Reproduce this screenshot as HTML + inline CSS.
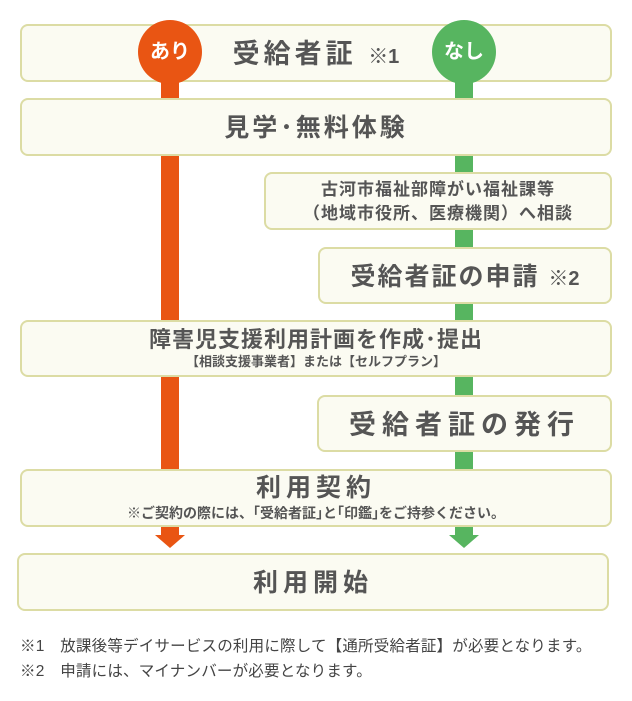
<!DOCTYPE html>
<html><head><meta charset="utf-8"><style>
body{margin:0;width:632px;height:701px;background:#fff;position:relative;overflow:hidden;font-family:"Liberation Sans","Noto Sans CJK JP",sans-serif;color:#555;}
.b{position:absolute;background:#fbfbf2;border:2px solid #dcdca4;border-radius:8px;box-sizing:border-box;text-align:center;font-weight:bold;}
.bar{position:absolute;width:18px;}
.c{position:absolute;width:64px;height:64px;border-radius:50%;color:#fff;font-weight:bold;font-size:20px;line-height:64px;text-align:center;}
.t{position:absolute;left:20px;font-size:15.5px;color:#444;letter-spacing:0.2px;}
</style></head><body>
<div class="bar" style="left:161px;top:60px;height:476px;background:#e95513"></div>
<div class="bar" style="left:455px;top:60px;height:476px;background:#57b560"></div>
<div style="position:absolute;left:155px;top:535px;width:0;height:0;border-left:15px solid transparent;border-right:15px solid transparent;border-top:13px solid #e95513"></div>
<div style="position:absolute;left:449px;top:535px;width:0;height:0;border-left:15px solid transparent;border-right:15px solid transparent;border-top:13px solid #57b560"></div>

<div class="b" style="left:20px;top:24px;width:592px;height:58px;font-size:27px;line-height:57px;letter-spacing:4px;">受給者証 <span style="font-size:20px;letter-spacing:0">※1</span></div>
<div class="c" style="left:138px;top:20px;background:#e95513">あり</div>
<div class="c" style="left:432px;top:20px;background:#57b560">なし</div>

<div class="b" style="left:20px;top:98px;width:592px;height:58px;font-size:25px;line-height:57px;letter-spacing:3px;">見学･無料体験</div>
<div class="b" style="left:264px;top:172px;width:348px;height:58px;font-size:17px;line-height:24px;padding-top:4px;letter-spacing:1px;">古河市福祉部障がい福祉課等<br>（地域市役所、医療機関）へ相談</div>
<div class="b" style="left:318px;top:247px;width:294px;height:57px;font-size:25px;line-height:56px;letter-spacing:2px;">受給者証の申請 <span style="font-size:20px;letter-spacing:0">※2</span></div>
<div class="b" style="left:20px;top:320px;width:592px;height:57px;padding-top:4px;"><div style="font-size:22px;line-height:27px;letter-spacing:1px;">障害児支援利用計画を作成･提出</div><div style="font-size:13px;line-height:18px;">【相談支援事業者】または【セルフプラン】</div></div>
<div class="b" style="left:317px;top:395px;width:295px;height:57px;font-size:27px;line-height:56px;letter-spacing:6px;">受給者証の発行</div>
<div class="b" style="left:20px;top:469px;width:592px;height:58px;padding-top:2px;"><div style="font-size:25px;line-height:31px;letter-spacing:5px;">利用契約</div><div style="font-size:14px;line-height:18px;">※ご契約の際には、｢受給者証｣と｢印鑑｣をご持参ください。</div></div>
<div class="b" style="left:17px;top:553px;width:592px;height:58px;font-size:25px;line-height:56px;letter-spacing:5px;">利用開始</div>

<div class="t" style="top:634px;">※1　放課後等デイサービスの利用に際して【通所受給者証】が必要となります。</div>
<div class="t" style="top:659px;">※2　申請には、マイナンバーが必要となります。</div>
</body></html>
